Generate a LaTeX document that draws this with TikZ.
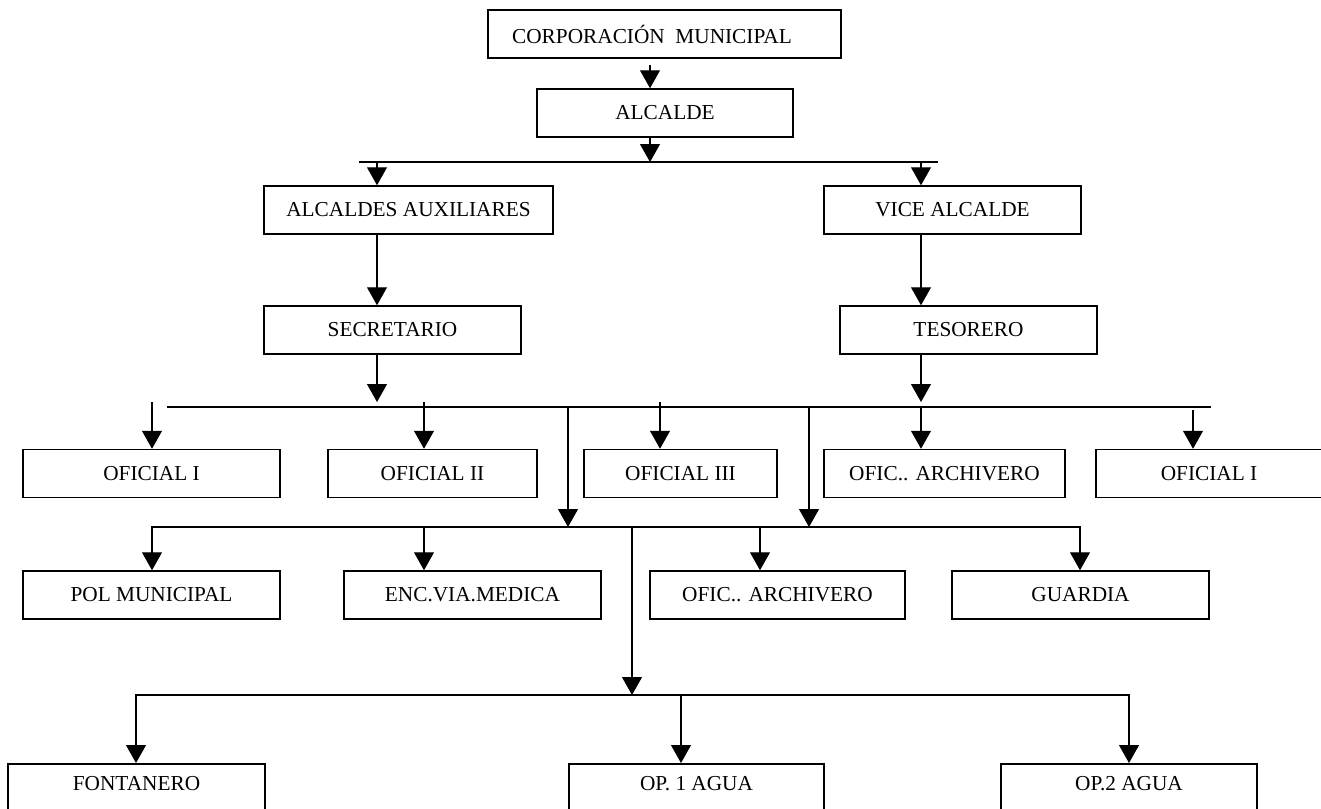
\documentclass[tikz,border=0pt]{standalone}
\usepackage{fontspec}
\setmainfont{Liberation Serif}
\usetikzlibrary{arrows.meta}

\begin{document}
\begin{tikzpicture}[x=1pt,y=-1pt,
        box/.style={draw,line width=1.5pt,minimum height=48pt,inner sep=0pt,font=\fontsize{21.3}{25}\selectfont},
        tallbox/.style={box,anchor=north,text height=14pt,text depth=80pt,inner ysep=13pt},
        arr/.style={line width=1.2pt,-{Triangle[length=18pt,width=20pt]}},
        bar/.style={line width=1.2pt,line cap=rect}]
        \useasboundingbox (0,0) rectangle (1321,808);
        \clip (0,0) rectangle (1321,808);

        \coordinate (c1) at (650,65);
        \coordinate (l1w) at (360,162);
        \coordinate (l1e) at (937,162);
        \coordinate (a1) at (377,162);
        \coordinate (a2) at (921,162);
        \coordinate (l3w) at (168,407);
        \coordinate (l3e) at (1210,407);
        \coordinate (t1) at (152,402);
        \coordinate (t2) at (424,402);
        \coordinate (t3) at (660,402);
        \coordinate (t4) at (1193,410);
        \coordinate (d1) at (568,407);
        \coordinate (d2) at (809,407);
        \coordinate (l4w) at (152,527);
        \coordinate (l4e) at (1080,527);
        \coordinate (e3) at (760,527);
        \coordinate (d3) at (632,527);
        \coordinate (l5w) at (136,695);
        \coordinate (l5e) at (1129,695);
        \coordinate (e5) at (681,695);

        \node[box,minimum width=353pt] (corp) at (664.5,34) {CORPORACIÓN\ \ MUNICIPAL\kern25pt};
        \node[box,minimum width=256pt] (alc) at (665,113) {ALCALDE};
        \node[box,minimum width=289pt] (aux) at (408.5,210) {ALCALDES AUXILIARES};
        \node[box,minimum width=257pt] (vice) at (952.5,210) {VICE ALCALDE};
        \node[box,minimum width=257pt] (sec) at (392.5,330) {SECRETARIO};
        \node[box,minimum width=257pt] (tes) at (968.5,330) {TESORERO};

        \node[box,minimum width=257pt] (ofa) at (151.5,473.5) {OFICIAL I};
        \node[box,minimum width=209pt] (ofb) at (432.5,473.5) {OFICIAL II};
        \node[box,minimum width=193pt] (ofc) at (680.5,473.5) {OFICIAL III};
        \node[box,minimum width=241pt] (arch) at (944.5,473.5) {OFIC.. ARCHIVERO};
        \node[box,minimum width=226pt] (ofd) at (1209,473.5) {OFICIAL I};

        \node[box,minimum width=257pt] (pol) at (151.5,595) {POL MUNICIPAL};
        \node[box,minimum width=257pt] (enc) at (472.5,595) {ENC.VIA.MEDICA};
        \node[box,minimum width=255pt] (archb) at (777.5,595) {OFIC.. ARCHIVERO};
        \node[box,minimum width=257pt] (guard) at (1080.5,595) {GUARDIA};

        \node[tallbox,minimum width=257pt] (fontanero) at (136.5,763) {FONTANERO};
        \node[tallbox,minimum width=255pt] (opa) at (696.5,763) {OP. 1 AGUA};
        \node[tallbox,minimum width=256pt] (opb) at (1129,763) {OP.2 AGUA};

        \draw[arr] (c1) -- (c1 |- alc.north);
        \draw[arr] (c1 |- alc.south) -- (c1 |- l1w);
        \draw[bar] (l1w) -- (l1e);
        \draw[arr] (a1) -- (a1 |- aux.north);
        \draw[arr] (a2) -- (a2 |- vice.north);
        \draw[arr] (a1 |- aux.south) -- (a1 |- sec.north);
        \draw[arr] (a2 |- vice.south) -- (a2 |- tes.north);
        \draw[arr] (a1 |- sec.south) -- (a1 |- t1);
        \draw[arr] (a2 |- tes.south) -- (a2 |- t1);

        \draw[bar] (l3w) -- (l3e);
        \draw[arr] (t1) -- (t1 |- ofa.north);
        \draw[arr] (t2) -- (t2 |- ofb.north);
        \draw[arr] (t3) -- (t3 |- ofc.north);
        \draw[arr] (a2 |- l3w) -- (a2 |- arch.north);
        \draw[arr] (t4) -- (t4 |- ofd.north);
        \draw[arr] (d1) -- (d1 |- l4w);
        \draw[arr] (d2) -- (d2 |- l4w);

        \draw[bar] (l4w) -- (l4e);
        \draw[arr] (l4w) -- (l4w |- pol.north);
        \draw[arr] (t2 |- l4w) -- (t2 |- enc.north);
        \draw[arr] (e3) -- (e3 |- archb.north);
        \draw[arr] (l4e) -- (l4e |- guard.north);
        \draw[arr] (d3) -- (d3 |- l5w);

        \draw[bar] (l5w) -- (l5e);
        \draw[arr] (l5w) -- (l5w |- fontanero.north);
        \draw[arr] (e5) -- (e5 |- opa.north);
        \draw[arr] (l5e) -- (l5e |- opb.north);
\end{tikzpicture}
\end{document}
